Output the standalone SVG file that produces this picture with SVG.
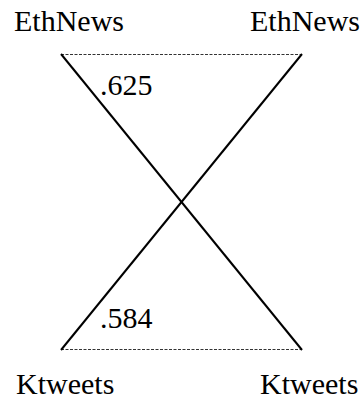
<svg xmlns="http://www.w3.org/2000/svg" width="363" height="399" viewBox="0 0 363 399">
<style>
text{font-family:"Liberation Serif","Times New Roman",serif;font-size:30px;fill:#000}
.d{stroke:#333;stroke-width:1;stroke-dasharray:3,1.5;fill:none}
.s{stroke:#000;stroke-width:2;fill:none}
</style>
<rect width="363" height="399" fill="#fff"/>
<g id="connectors">
<line class="d" x1="61" y1="54.5" x2="302" y2="54.5"/>
<line class="d" x1="61" y1="349.5" x2="302" y2="349.5"/>
<line class="s" x1="61" y1="54" x2="302" y2="350"/>
<line class="s" x1="302" y1="54" x2="61" y2="350"/>
<text x="100" y="95">.625</text>
<text x="100" y="328">.584</text>
</g>
<g id="ethnews-left"><text x="14" y="31">EthNews</text></g>
<g id="ethnews-right"><text x="250" y="31">EthNews</text></g>
<g id="ktweets-left"><text x="16" y="394">Ktweets</text></g>
<g id="ktweets-right"><text x="260" y="394">Ktweets</text></g>
</svg>
